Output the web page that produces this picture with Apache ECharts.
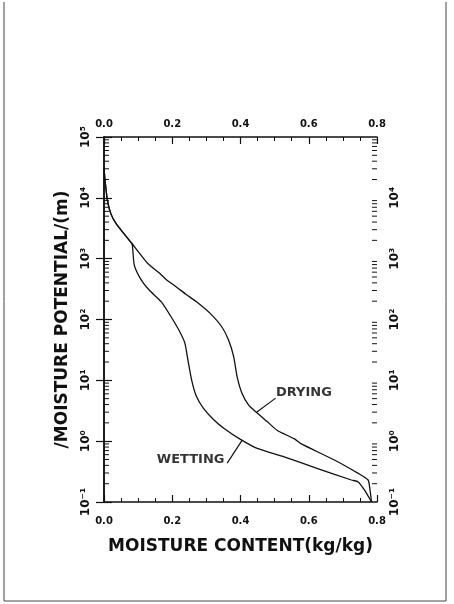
<!DOCTYPE html>
<html>
<head>
<meta charset="utf-8">
<script src="https://cdn.jsdelivr.net/npm/echarts@6/dist/echarts.min.js"></script>
<style>
  html, body { margin: 0; padding: 0; background: #fff; }
  #chart { width: 454px; height: 604px; }
</style>
</head>
<body>
<div id="chart"></div>
<script>
// moisture content (kg/kg) and moisture potential (m)
const dryingContent = [0.000, 0.003, 0.010, 0.020, 0.035, 0.074, 0.079, 0.127, 0.163, 0.183, 0.213, 0.240, 0.271, 0.311, 0.345, 0.365, 0.380, 0.390, 0.404, 0.424, 0.449, 0.478, 0.508, 0.557, 0.577, 0.675, 0.745, 0.774, 0.779, 0.784]
const dryingPotential = [31600, 19500, 9100, 5500, 3800, 2000, 1860, 850, 575, 450, 340, 260, 195, 126, 76, 46, 24.5, 11.5, 6.2, 3.9, 2.9, 2.1, 1.5, 1.1, 0.91, 0.49, 0.295, 0.23, 0.166, 0.1]

const wettingContent = [0.000, 0.003, 0.010, 0.020, 0.035, 0.074, 0.079, 0.083, 0.089, 0.109, 0.133, 0.168, 0.197, 0.222, 0.237, 0.246, 0.257, 0.271, 0.291, 0.320, 0.352, 0.400, 0.449, 0.528, 0.626, 0.725, 0.745, 0.764, 0.784]
const wettingPotential = [31600, 19500, 9100, 5500, 3800, 2000, 1860, 1660, 776, 447, 302, 195, 110, 63, 41, 21.4, 10, 5.4, 3.5, 2.3, 1.62, 1.07, 0.76, 0.55, 0.355, 0.23, 0.214, 0.155, 0.1]

// axis ticks
const xTickLabels = ['0.0', '0.2', '0.4', '0.6', '0.8']
const yTickLabels = ['10⁻¹', '10⁰', '10¹', '10²', '10³', '10⁴', '10⁵']
const yDecades = [0.1, 1, 10, 100, 1000, 10000]
const yMinorFactors = [2, 3, 4, 5, 6, 7, 8, 9]

// curve labels: [content, potential]
const dryingLabelAt = [0.586, 6.2]
const dryingLeader = [[0.447, 3.0], [0.503, 5.1]]
const wettingLabelAt = [0.254, 0.506]
const wettingLeader = [[0.361, 0.435], [0.405, 1.04]]

const font = '"DejaVu Sans", sans-serif'
const ink = '#111'

const chart = echarts.init(document.getElementById('chart'))

function pairs(xs, ys) {
  return xs.map((x, i) => [x, ys[i]])
}

function xLabel(v) {
  return xTickLabels[Math.round(v / 0.2)]
}

function yLabel(v) {
  return yTickLabels[Math.round(Math.log10(v)) + 1]
}

// minor log ticks on both sides of the frame: [x edge, potential]
const minorTicks = []
yDecades.forEach(d => yMinorFactors.forEach(f => {
  minorTicks.push([0, d * f])
  minorTicks.push([0.8, d * f])
}))

const xAxisBase = {
  type: 'value',
  min: 0,
  max: 0.8,
  interval: 0.2,
  axisLine: { lineStyle: { color: ink, width: 1.5 } },
  axisTick: { inside: true, length: 7, lineStyle: { color: ink, width: 1.2 } },
  minorTick: { show: true, splitNumber: 4, length: 4, lineStyle: { color: ink } },
  splitLine: { show: false },
  axisLabel: { formatter: xLabel, color: ink, fontFamily: font, fontWeight: 'bold', fontSize: 10 },
}

const yAxisBase = {
  type: 'log',
  logBase: 10,
  min: 0.1,
  max: 100000,
  axisLine: { lineStyle: { color: ink, width: 1.5 } },
  axisTick: { inside: true, length: 8, lineStyle: { color: ink, width: 1.2 } },
  splitLine: { show: false },
  axisLabel: { color: ink, fontFamily: font, fontWeight: 'bold', fontSize: 12, rotate: 90, margin: 12 },
}

const titleStyle = { color: ink, fontFamily: font, fontWeight: 'bold', fontSize: 17 }

const option = {
  backgroundColor: '#fff',
  animation: false,
  grid: { left: 104, right: 77, top: 137, bottom: 102 },
  graphic: [
    {
      type: 'polyline',
      shape: { points: [[4, 2], [4, 601], [446, 601], [446, 2]] },
      style: { stroke: '#444', lineWidth: 1, fill: null },
    },
  ],
  xAxis: [
    {
      ...xAxisBase,
      position: 'bottom',
      axisLabel: { ...xAxisBase.axisLabel, margin: 14 },
      name: 'MOISTURE CONTENT(kg/kg)',
      nameLocation: 'middle',
      nameGap: 36,
      nameTextStyle: titleStyle,
    },
    {
      ...xAxisBase,
      position: 'top',
      axisLabel: { ...xAxisBase.axisLabel, margin: 8 },
    },
  ],
  yAxis: [
    {
      ...yAxisBase,
      position: 'left',
      axisLabel: { ...yAxisBase.axisLabel, formatter: yLabel },
      name: '/MOISTURE POTENTIAL/(m)',
      nameLocation: 'middle',
      nameGap: 33,
      nameRotate: 90,
      nameTextStyle: titleStyle,
    },
    {
      ...yAxisBase,
      position: 'right',
      axisLabel: { ...yAxisBase.axisLabel, formatter: v => (v >= 100000 ? '' : yLabel(v)) },
    },
  ],
  series: [
    {
      name: 'minor y ticks',
      type: 'custom',
      clip: false,
      z: 5,
      data: minorTicks,
      renderItem: (params, api) => {
        const pt = api.coord([api.value(0), api.value(1)])
        const dir = api.value(0) > 0.4 ? -1 : 1
        return {
          type: 'line',
          shape: { x1: pt[0], y1: pt[1], x2: pt[0] + dir * 5, y2: pt[1] },
          style: { stroke: ink, lineWidth: 1 },
        }
      },
    },
    {
      name: 'Drying',
      type: 'line',
      data: pairs(dryingContent, dryingPotential),
      showSymbol: false,
      smooth: 0.2,
      lineStyle: { color: ink, width: 1.3 },
      markLine: {
        silent: true,
        symbol: 'none',
        label: { show: false },
        lineStyle: { color: ink, width: 1.2, type: 'solid' },
        data: [[{ coord: dryingLeader[0] }, { coord: dryingLeader[1] }]],
      },
    },
    {
      name: 'Wetting',
      type: 'line',
      data: pairs(wettingContent, wettingPotential),
      showSymbol: false,
      smooth: 0.2,
      lineStyle: { color: ink, width: 1.3 },
      markLine: {
        silent: true,
        symbol: 'none',
        label: { show: false },
        lineStyle: { color: ink, width: 1.2, type: 'solid' },
        data: [[{ coord: wettingLeader[0] }, { coord: wettingLeader[1] }]],
      },
    },
    {
      name: 'labels',
      type: 'scatter',
      symbolSize: 0,
      silent: true,
      data: [
        { value: dryingLabelAt, name: 'DRYING' },
        { value: wettingLabelAt, name: 'WETTING' },
      ],
      label: {
        show: true,
        position: 'inside',
        formatter: p => p.name,
        color: '#000',
        textBorderWidth: 0,
        fontFamily: font,
        fontWeight: 'bold',
        fontSize: 13,
      },
    },
  ],
}

chart.setOption(option)
</script>
</body>
</html>
